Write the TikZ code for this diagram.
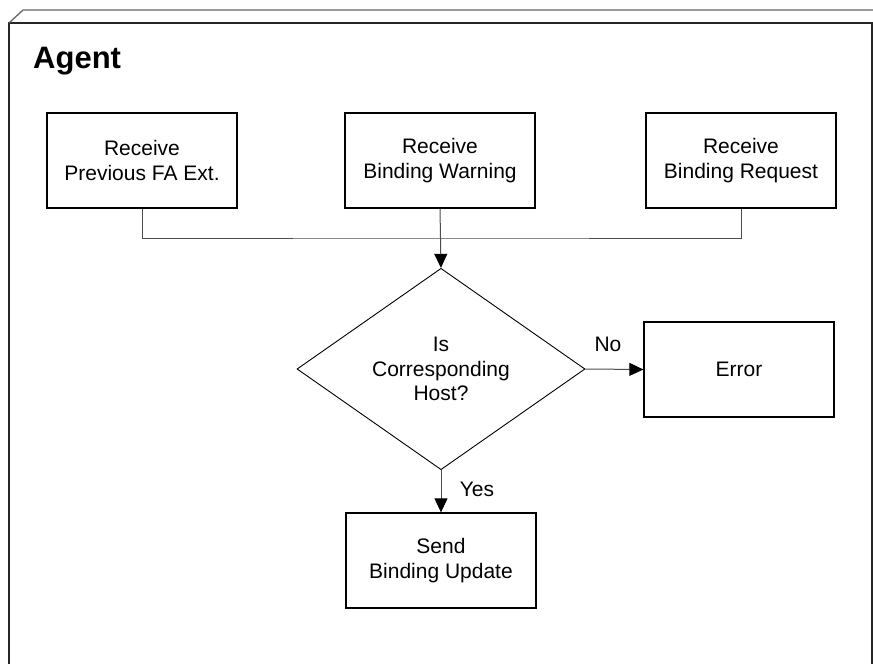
\documentclass[tikz,border=0pt]{standalone}
\usepackage{fontspec}
\setmainfont{Liberation Sans}
\usetikzlibrary{shapes.geometric,arrows.meta}

\tikzset{
  stepbox/.style={draw=black, line width=1.3pt, rectangle, minimum width=190pt,
    minimum height=95pt, inner sep=0pt, align=center,
    font=\fontsize{21}{24.5}\selectfont},
  decision/.style={draw=black, line width=0.9pt, diamond, minimum width=288pt,
    minimum height=191pt, inner sep=0pt, align=center,
    font=\fontsize{21}{24.5}\selectfont},
  conn/.style={draw=black!70, line width=1pt},
  flow/.style={conn, -{Triangle[length=14pt,width=13pt,color=black,fill=black]}},
  tag/.style={font=\fontsize{21}{24.5}\selectfont, inner sep=0pt},
  frame/.style={draw=black!85, line width=1.6pt},
}

\begin{document}
\begin{tikzpicture}[x=1pt,y=-1pt]
\useasboundingbox (0,0) rectangle (873,664);

% package frame with its folded top edge
\draw[frame] (9,664) -- (9,23) -- (872,23) -- (872,664);
\draw[draw=black!60, line width=1.3pt] (9,23) -- (23,10) -- (873,10);
\node[anchor=base west, inner sep=0pt, font=\fontsize{31}{36}\selectfont\bfseries] (title) at (33,68) {Agent};

% incoming messages
\node[stepbox] (prevfa) at (142,160.5) {Receive\\Previous FA Ext.};
\node[stepbox] (warn)   at (440,160.5) {Receive\\Binding Warning};
\node[stepbox] (req)    at (741,160.5) {Receive\\Binding Request};

% decision and outcomes
\node[decision] (isch) at (441,369) {Is\\Corresponding\\Host?};
\node[stepbox] (err)  at (739,369.5) {Error};
\node[stepbox] (send) at (441,560.5) {Send\\Binding Update};

% merge of the three receive steps
\coordinate (merge) at (440,238);
\draw[conn] (prevfa.south) |- (merge) -| (req.south);
\draw[flow] (warn.south) -- (isch.north);

% branches
\draw[flow] (isch.east) -- (err.west);
\node[tag] (nolbl) at (608,344) {No};
\draw[flow] (isch.south) -- (send.north);
\node[tag] (yeslbl) at (477,489) {Yes};
\end{tikzpicture}
\end{document}
